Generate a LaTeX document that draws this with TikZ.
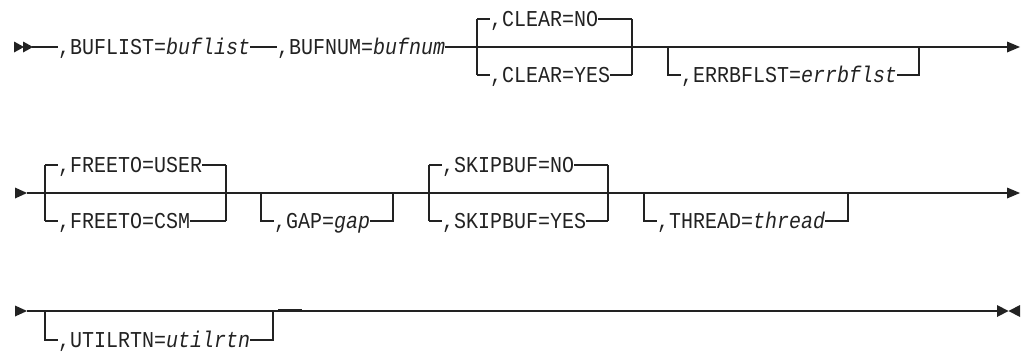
\documentclass[tikz,border=0pt]{standalone}
\usepackage{fontspec}
\setmonofont[FakeStretch=0.88]{Liberation Mono}
\definecolor{ink}{HTML}{222222}
\tikzset{
  rail/.style={line width=1.4pt, draw=ink},
  kw/.style={inner sep=0pt, anchor=base west, text=ink,
             font=\ttfamily\fontsize{22.7}{24}\selectfont},
  tip/.style={fill=ink, draw=none}
}
\begin{document}
\begin{tikzpicture}[x=1pt, y=-1pt]
\useasboundingbox (0,0) rectangle (1024,351);

% ---------------- first line ----------------
\fill[tip] (14,41.5) -- (24,47) -- (14,52.5) -- cycle;
\fill[tip] (23,41.5) -- (33,47) -- (23,52.5) -- cycle;
\coordinate (s1) at (32,47);
\node[kw] (buflist) at (58,54.5) {,BUFLIST=\textit{buflist}};
\node[kw] (bufnum)  at (277,54.5) {,BUFNUM=\textit{bufnum}};
% CLEAR choice
\coordinate (clLt) at (477,19); \coordinate (clLb) at (477,75);
\coordinate (clRt) at (632,19); \coordinate (clRb) at (632,75);
\node[kw] (clno)  at (490,26.5) {,CLEAR=NO};
\node[kw] (clyes) at (490,82.5) {,CLEAR=YES};
% ERRBFLST option
\coordinate (erL) at (668,47); \coordinate (erLb) at (668,75);
\coordinate (erR) at (919,47); \coordinate (erRb) at (919,75);
\node[kw] (err) at (681,82.5) {,ERRBFLST=\textit{errbflst}};
\coordinate (e1) at (1007,47);

\draw[rail] (s1) -- (buflist.west |- s1);
\draw[rail] (buflist.east |- s1) -- (bufnum.west |- s1);
\draw[rail] (bufnum.east |- s1) -- (e1);
\draw[rail] (clLt) -- (clLb);
\draw[rail] (clRt) -- (clRb);
\draw[rail] (clLt) -- (clLt -| clno.west);
\draw[rail] (clno.east |- clRt) -- (clRt);
\draw[rail] (clLb) -- (clLb -| clyes.west);
\draw[rail] (clyes.east |- clRb) -- (clRb);
\draw[rail] (erL) -- (erLb) -- (erLb -| err.west);
\draw[rail] (err.east |- erRb) -- (erRb) -- (erR);
\fill[tip] (1007,41.5) -- (1020,47) -- (1007,52.5) -- cycle;

% ---------------- second line ----------------
\fill[tip] (15,187.5) -- (27,193) -- (15,198.5) -- cycle;
\coordinate (s2) at (27,193);
\coordinate (e2) at (1007,193);
% FREETO choice
\coordinate (ftLt) at (45,165); \coordinate (ftLb) at (45,221);
\coordinate (ftRt) at (226,165); \coordinate (ftRb) at (226,221);
\node[kw] (ftuser) at (58,172.5) {,FREETO=USER};
\node[kw] (ftcsm)  at (58,228.5) {,FREETO=CSM};
% GAP option
\coordinate (gpL) at (261,193); \coordinate (gpLb) at (261,221);
\coordinate (gpR) at (393,193); \coordinate (gpRb) at (393,221);
\node[kw] (gap) at (274,228.5) {,GAP=\textit{gap}};
% SKIPBUF choice
\coordinate (skLt) at (429,165); \coordinate (skLb) at (429,221);
\coordinate (skRt) at (608,165); \coordinate (skRb) at (608,221);
\node[kw] (skno)  at (442,172.5) {,SKIPBUF=NO};
\node[kw] (skyes) at (442,228.5) {,SKIPBUF=YES};
% THREAD option
\coordinate (thL) at (644,193); \coordinate (thLb) at (644,221);
\coordinate (thR) at (848,193); \coordinate (thRb) at (848,221);
\node[kw] (thread) at (657,228.5) {,THREAD=\textit{thread}};

\draw[rail] (s2) -- (e2);
\draw[rail] (ftLt) -- (ftLb);
\draw[rail] (ftRt) -- (ftRb);
\draw[rail] (ftLt) -- (ftLt -| ftuser.west);
\draw[rail] (ftuser.east |- ftRt) -- (ftRt);
\draw[rail] (ftLb) -- (ftLb -| ftcsm.west);
\draw[rail] (ftcsm.east |- ftRb) -- (ftRb);
\draw[rail] (gpL) -- (gpLb) -- (gpLb -| gap.west);
\draw[rail] (gap.east |- gpRb) -- (gpRb) -- (gpR);
\draw[rail] (skLt) -- (skLb);
\draw[rail] (skRt) -- (skRb);
\draw[rail] (skLt) -- (skLt -| skno.west);
\draw[rail] (skno.east |- skRt) -- (skRt);
\draw[rail] (skLb) -- (skLb -| skyes.west);
\draw[rail] (skyes.east |- skRb) -- (skRb);
\draw[rail] (thL) -- (thLb) -- (thLb -| thread.west);
\draw[rail] (thread.east |- thRb) -- (thRb) -- (thR);
\fill[tip] (1007,187.5) -- (1020,193) -- (1007,198.5) -- cycle;

% ---------------- third line ----------------
\fill[tip] (15,305.5) -- (27,311) -- (15,316.5) -- cycle;
\coordinate (s3) at (27,311);
\coordinate (e3) at (997,311);
\coordinate (utL) at (45,311); \coordinate (utLb) at (45,340);
\coordinate (utR) at (273,311); \coordinate (utRb) at (273,340);
\node[kw] (util) at (58,347.5) {,UTILRTN=\textit{utilrtn}};
\coordinate (dA) at (278,310.4); \coordinate (dB) at (302,310.4);

\draw[rail] (s3) -- (e3);
\draw[rail] (utL) -- (utLb) -- (utLb -| util.west);
\draw[rail] (util.east |- utRb) -- (utRb) -- (utR);
\draw[rail, line width=2.2pt] (dA) -- (dB);
\fill[tip] (997,305) -- (1008.5,311) -- (997,317) -- cycle;
\fill[tip] (1020,305) -- (1008.5,311) -- (1020,317) -- cycle;
\end{tikzpicture}
\end{document}
